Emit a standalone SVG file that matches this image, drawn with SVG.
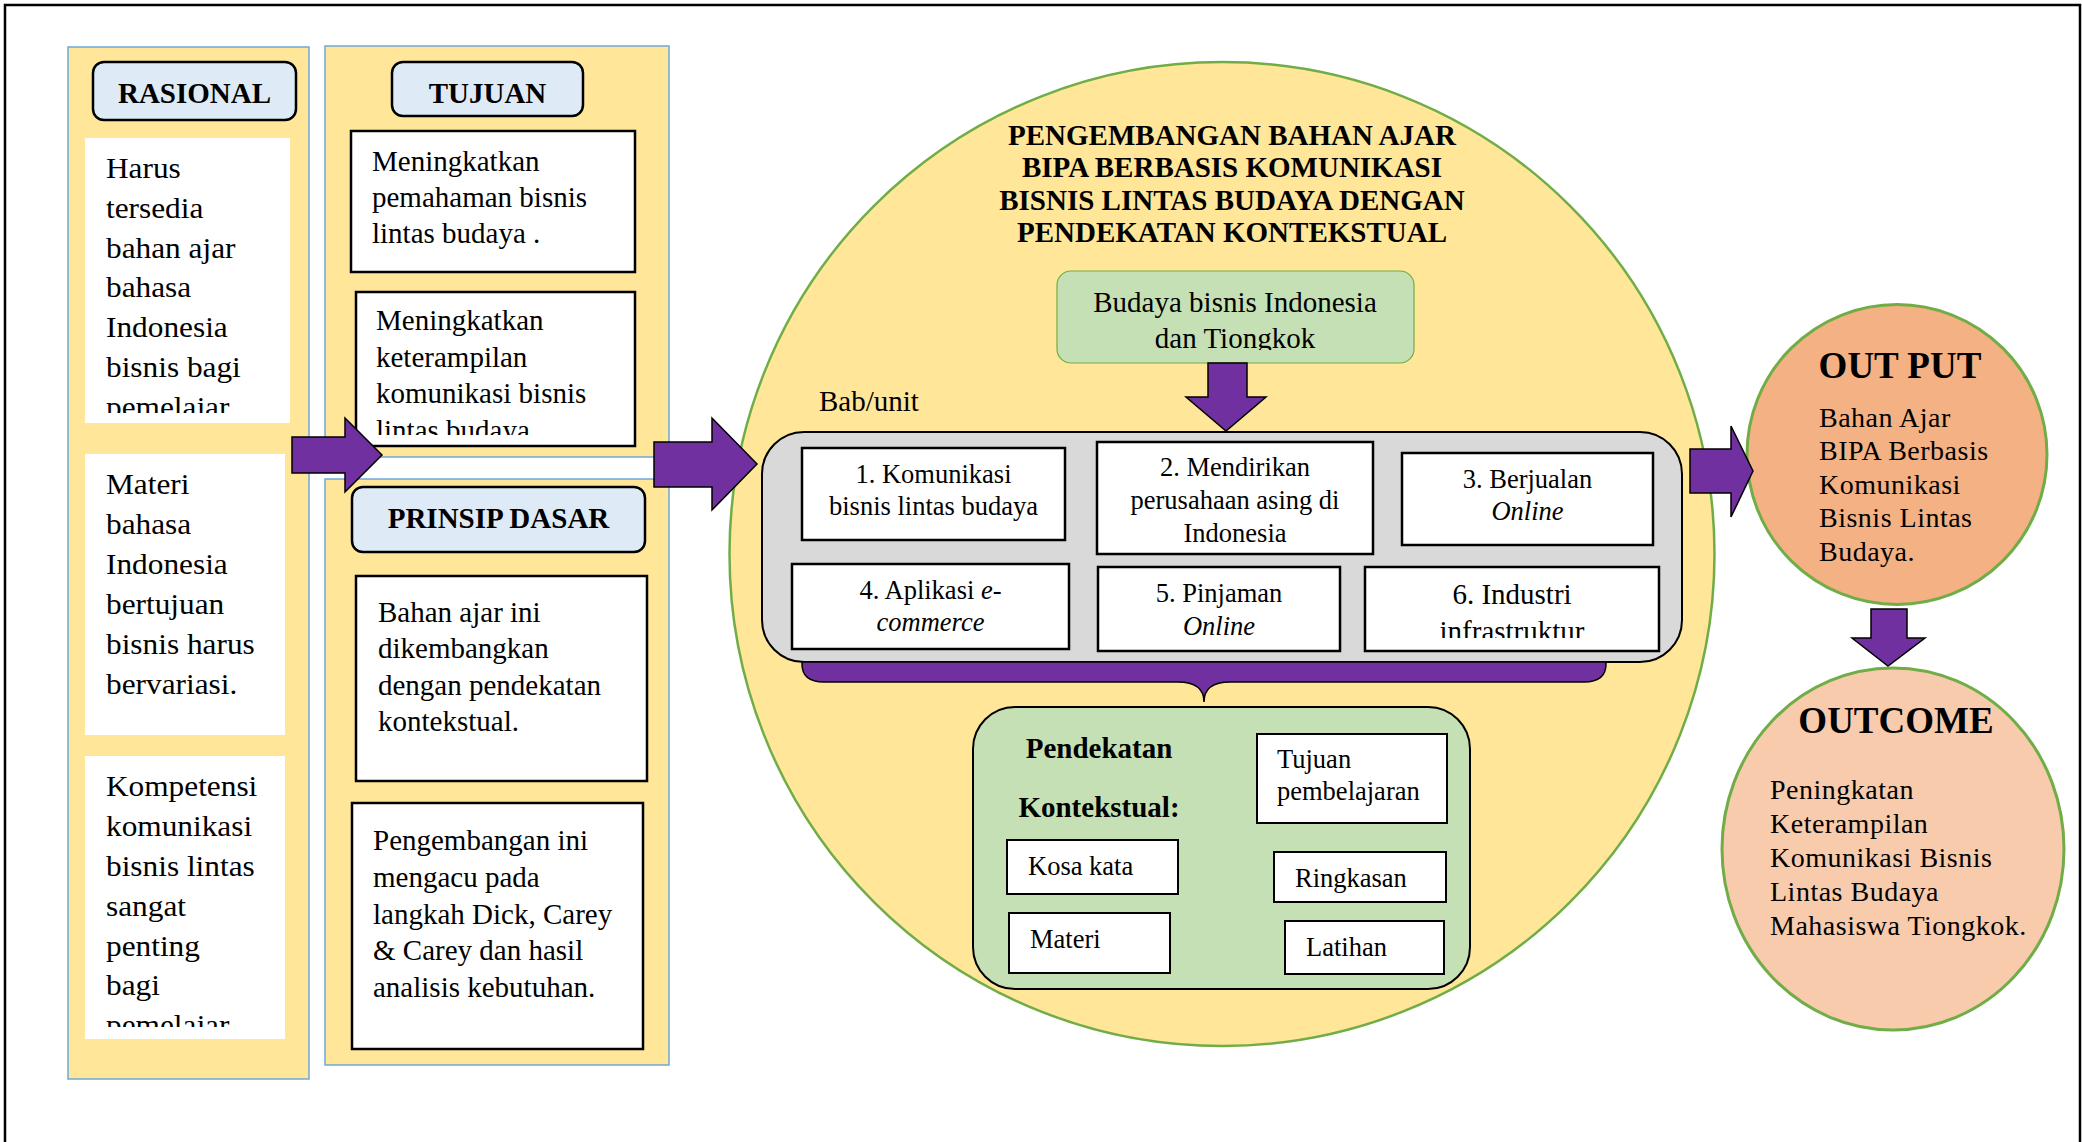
<svg xmlns="http://www.w3.org/2000/svg" width="2082" height="1142" viewBox="0 0 2082 1142">
<style>
text{font-family:"Liberation Serif","Times New Roman",serif;fill:#000}
.col{fill:#ffe699;stroke:#6fa8dc;stroke-width:1.5}
.wb{fill:#fff}
.hdr{fill:#deebf7;stroke:#000;stroke-width:2.5}
.ht{font-size:29px;font-weight:bold;text-anchor:middle}
.bx{fill:#fff;stroke:#000;stroke-width:2.5}
.bx2{fill:#fff;stroke:#000;stroke-width:2}
.t29{font-size:29px}
.t26{font-size:26.5px}
.c{text-anchor:middle}
.it{font-style:italic}
.arr{fill:#7030a0;stroke:#000;stroke-width:1.5;stroke-linejoin:miter}
.circ{stroke:#70ad47;stroke-width:3}
.big{font-size:37px;font-weight:bold;text-anchor:middle}
.ot{font-size:28px;letter-spacing:0.5px}
</style>
<defs>
<clipPath id="cR1"><rect x="85" y="138" width="205" height="275"/></clipPath>
<clipPath id="cR3"><rect x="85" y="756" width="200" height="271"/></clipPath>
<clipPath id="cT2"><rect x="356" y="292" width="279" height="143"/></clipPath>
<clipPath id="cG"><rect x="1057" y="271" width="357" height="79"/></clipPath>
<clipPath id="c6"><rect x="1365" y="567" width="294" height="71"/></clipPath>
</defs>
<rect x="5" y="5" width="2075" height="1160" fill="#fff" stroke="#000" stroke-width="2.5"/>

<g id="rasional">
<rect class="col" x="68" y="47" width="241" height="1032"/>
<rect class="hdr" x="93" y="62" width="203" height="58" rx="11"/>
<text class="ht" x="194.5" y="103">RASIONAL</text>
<rect class="wb" x="85" y="138" width="205" height="285"/>
<rect class="wb" x="85" y="454" width="200" height="281"/>
<rect class="wb" x="85" y="756" width="200" height="283"/>
<g clip-path="url(#cR1)"><g transform="translate(106 0) scale(1.08 1)">
<text class="t29" x="0" y="178">Harus</text>
<text class="t29" x="0" y="218">tersedia</text>
<text class="t29" x="0" y="258">bahan ajar</text>
<text class="t29" x="0" y="297">bahasa</text>
<text class="t29" x="0" y="337">Indonesia</text>
<text class="t29" x="0" y="377">bisnis bagi</text>
<text class="t29" x="0" y="417">pemelajar</text>
</g></g>
<g transform="translate(106 0) scale(1.08 1)">
<text class="t29" x="0" y="494">Materi</text>
<text class="t29" x="0" y="534">bahasa</text>
<text class="t29" x="0" y="574">Indonesia</text>
<text class="t29" x="0" y="614">bertujuan</text>
<text class="t29" x="0" y="654">bisnis harus</text>
<text class="t29" x="0" y="694">bervariasi.</text>
</g>
<g clip-path="url(#cR3)"><g transform="translate(106 0) scale(1.08 1)">
<text class="t29" x="0" y="796">Kompetensi</text>
<text class="t29" x="0" y="836">komunikasi</text>
<text class="t29" x="0" y="876">bisnis lintas</text>
<text class="t29" x="0" y="916">sangat</text>
<text class="t29" x="0" y="956">penting</text>
<text class="t29" x="0" y="995">bagi</text>
<text class="t29" x="0" y="1035">pemelajar</text>
</g></g>
</g>

<g id="tujuan">
<rect class="col" x="325" y="46" width="344" height="411"/>
<rect class="hdr" x="392" y="62" width="191" height="54" rx="11"/>
<text class="ht" x="487.5" y="103">TUJUAN</text>
<rect class="bx" x="351" y="131" width="284" height="141"/>
<text class="t29" x="372" y="171">Meningkatkan</text>
<text class="t29" x="372" y="207">pemahaman bisnis</text>
<text class="t29" x="372" y="243">lintas budaya .</text>
<rect class="bx" x="356" y="292" width="279" height="154"/>
<g clip-path="url(#cT2)">
<text class="t29" x="376" y="330">Meningkatkan</text>
<text class="t29" x="376" y="367">keterampilan</text>
<text class="t29" x="376" y="403">komunikasi bisnis</text>
<text class="t29" x="376" y="440">lintas budaya</text>
</g>
</g>

<g id="prinsip">
<rect class="col" x="325" y="479" width="344" height="586"/>
<rect class="hdr" x="352" y="487" width="293" height="65" rx="11"/>
<text class="ht" x="498.5" y="528">PRINSIP DASAR</text>
<rect class="bx" x="356" y="576" width="291" height="205"/>
<text class="t29" x="378" y="622">Bahan ajar ini</text>
<text class="t29" x="378" y="658">dikembangkan</text>
<text class="t29" x="378" y="695">dengan pendekatan</text>
<text class="t29" x="378" y="731">kontekstual.</text>
<rect class="bx" x="352" y="803" width="291" height="246"/>
<text class="t29" x="373" y="850">Pengembangan ini</text>
<text class="t29" x="373" y="887">mengacu pada</text>
<text class="t29" x="373" y="924">langkah Dick, Carey</text>
<text class="t29" x="373" y="960">&amp; Carey dan hasil</text>
<text class="t29" x="373" y="997">analisis kebutuhan.</text>
</g>

<g id="pengembangan">
<ellipse cx="1222" cy="554" rx="492.5" ry="492" fill="#ffe699" stroke="#70ad47" stroke-width="2.5"/>
<text class="ht" x="1232" y="145">PENGEMBANGAN BAHAN AJAR</text>
<text class="ht" x="1232" y="177">BIPA BERBASIS KOMUNIKASI</text>
<text class="ht" x="1232" y="210">BISNIS LINTAS BUDAYA DENGAN</text>
<text class="ht" x="1232" y="242">PENDEKATAN KONTEKSTUAL</text>
</g>

<g id="budaya">
<rect x="1057" y="271" width="357" height="92" rx="14" fill="#c5e0b4" stroke="#70ad47" stroke-width="1.2"/>
<g clip-path="url(#cG)">
<text class="t29 c" x="1235" y="312">Budaya bisnis Indonesia</text>
<text class="t29 c" x="1235" y="348">dan Tiongkok</text>
</g>
</g>

<g id="bab">
<text class="t29" x="819" y="411">Bab/unit</text>
<rect x="762" y="432" width="920" height="230" rx="42" fill="#d9d9d9" stroke="#000" stroke-width="2"/>
<g id="bab1"><rect class="bx" x="802" y="448" width="263" height="92"/>
<text class="t26 c" x="933.5" y="483">1. Komunikasi</text>
<text class="t26 c" x="933.5" y="515">bisnis lintas budaya</text></g>
<g id="bab2"><rect class="bx" x="1097" y="442" width="276" height="112"/>
<text class="t26 c" x="1235" y="476">2. Mendirikan</text>
<text class="t26 c" x="1235" y="509">perusahaan asing di</text>
<text class="t26 c" x="1235" y="542">Indonesia</text></g>
<g id="bab3"><rect class="bx" x="1402" y="453" width="251" height="92"/>
<text class="t26 c" x="1527.5" y="488">3. Berjualan</text>
<text class="t26 c it" x="1527.5" y="520">Online</text></g>
<g id="bab4"><rect class="bx" x="792" y="564" width="277" height="85"/>
<text class="t26 c" x="930.5" y="599">4. Aplikasi <tspan class="it">e-</tspan></text>
<text class="t26 c it" x="930.5" y="631">commerce</text></g>
<g id="bab5"><rect class="bx" x="1098" y="567" width="242" height="84"/>
<text class="t26 c" x="1219" y="602">5. Pinjaman</text>
<text class="t26 c it" x="1219" y="635">Online</text></g>
<g id="bab6"><rect class="bx" x="1365" y="567" width="294" height="84"/>
<g clip-path="url(#c6)">
<text class="t29 c" x="1512" y="604">6. Industri</text>
<text class="t29 c" x="1512" y="641">infrastruktur</text></g></g>
</g>

<g id="pendekatan">
<rect x="973" y="707" width="497" height="282" rx="42" fill="#c5e0b4" stroke="#000" stroke-width="2"/>
<text class="ht" x="1099" y="758">Pendekatan</text>
<text class="ht" x="1099" y="817">Kontekstual:</text>
<rect class="bx2" x="1257" y="734" width="190" height="89"/>
<text class="t26" x="1277" y="768">Tujuan</text>
<text class="t26" x="1277" y="800">pembelajaran</text>
<rect class="bx2" x="1007" y="840" width="171" height="54"/>
<text class="t26" x="1028" y="875">Kosa kata</text>
<rect class="bx2" x="1274" y="852" width="172" height="50"/>
<text class="t26" x="1295" y="887">Ringkasan</text>
<rect class="bx2" x="1009" y="913" width="161" height="60"/>
<text class="t26" x="1030" y="948">Materi</text>
<rect class="bx2" x="1285" y="921" width="159" height="53"/>
<text class="t26" x="1306" y="956">Latihan</text>
</g>

<g id="output">
<ellipse class="circ" cx="1897" cy="454.5" rx="150" ry="150" fill="#f4b183"/>
<text class="big" x="1900" y="378">OUT PUT</text>
<text class="ot" x="1819" y="427">Bahan Ajar</text>
<text class="ot" x="1819" y="460">BIPA Berbasis</text>
<text class="ot" x="1819" y="494">Komunikasi</text>
<text class="ot" x="1819" y="527">Bisnis Lintas</text>
<text class="ot" x="1819" y="561">Budaya.</text>
</g>

<g id="outcome">
<ellipse class="circ" cx="1893" cy="849" rx="171" ry="181" fill="#f8cbad"/>
<text class="big" x="1896" y="733">OUTCOME</text>
<text class="ot" x="1770" y="799">Peningkatan</text>
<text class="ot" x="1770" y="833">Keterampilan</text>
<text class="ot" x="1770" y="867">Komunikasi Bisnis</text>
<text class="ot" x="1770" y="901">Lintas Budaya</text>
<text class="ot" x="1770" y="935">Mahasiswa Tiongkok.</text>
</g>

<g id="connectors">
<polygon class="arr" points="292,437 345,437 345,418 382,455 345,492 345,473 292,473"/>
<polygon class="arr" points="654,442 712,442 712,418 757,464 712,510 712,487 654,487"/>
<polygon class="arr" points="1208,363 1247,363 1247,397 1266,397 1226,431 1186,397 1208,397"/>
<polygon class="arr" points="1690,449 1731,449 1731,426 1753,471 1731,517 1731,493 1690,493"/>
<polygon class="arr" points="1871,609 1907,609 1907,638 1925,638 1888,666 1852,638 1871,638"/>
<path class="arr" d="M802,662 L1606,662 L1606,664 Q1606,682 1584,682 L1230,682 Q1204,682 1204,702 Q1204,682 1178,682 L824,682 Q802,682 802,664 Z"/>
</g>
</svg>
